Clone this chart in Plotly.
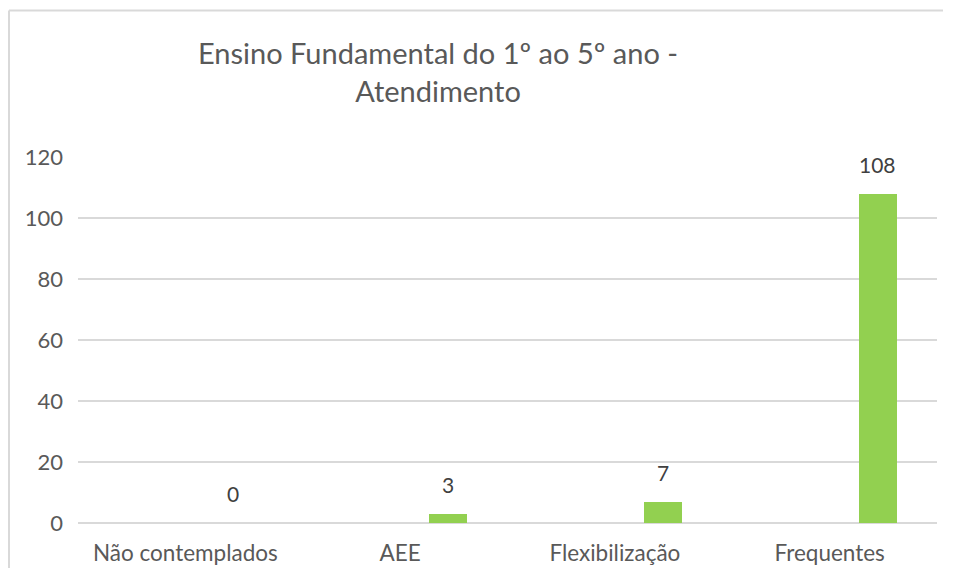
import plotly.graph_objects as go

categories = ["Não contemplados", "AEE", "Flexibilização", "Frequentes"]
values = [0, 3, 7, 108]
y_ticks = [0, 20, 40, 60, 80, 100, 120]
title_text = "Ensino Fundamental do 1º ao 5º ano -<br>Atendimento"

BAR_COLOR = "#92D050"
TEXT_GREY = "#595959"
LABEL_DARK = "#404040"
GRID = "#D9D9D9"
FONT = "Lato, 'Open Sans', sans-serif"

BAR_WIDTH = 0.177
BAR_OFFSET = 0.135

# page body has an 8px margin, so the figure is sized to fit inside the window
W, H = 936, 560
L, R, T, B = 70, 7, 149, 45
PW, PH = W - L - R, H - T - B

fig = go.Figure()
fig.add_trace(go.Bar(
    x=categories, y=values,
    width=BAR_WIDTH, offset=BAR_OFFSET,
    marker=dict(color=BAR_COLOR, line=dict(width=0)),
    hoverinfo="x+y",
))

annotations = []
for i, v in enumerate(values):
    annotations.append(dict(
        x=i + BAR_OFFSET + BAR_WIDTH / 2, y=v, xref="x", yref="y",
        text=str(v), showarrow=False, yanchor="bottom", yshift=15,
        font=dict(family=FONT, size=21, color=LABEL_DARK),
    ))

# chart-area border (Excel style): only top and left edges are visible in the crop
bx0 = (1 - L) / PW
bx1 = (W - 1 - L) / PW
by_top = (PH + T - 2.5) / PH
by_bot = (PH + T - H) / PH
shapes = [
    dict(type="line", xref="paper", yref="paper", x0=bx0, x1=bx1, y0=by_top, y1=by_top,
         line=dict(color="#D9D9D9", width=2), layer="below"),
    dict(type="line", xref="paper", yref="paper", x0=bx0, x1=bx0, y0=by_bot, y1=by_top,
         line=dict(color="#D9D9D9", width=2), layer="below"),
]

fig.update_layout(
    width=W, height=H,
    margin=dict(l=L, r=R, t=T, b=B, autoexpand=False),
    paper_bgcolor="white", plot_bgcolor="white",
    font=dict(family=FONT, color=TEXT_GREY),
    title=dict(text=title_text, x=430 / W, xanchor="center", xref="container",
               y=1 - 56 / H, yanchor="top", yref="container",
               font=dict(family=FONT, size=29, color=TEXT_GREY)),
    showlegend=False,
    bargap=0,
    annotations=annotations,
    shapes=shapes,
)
fig.update_xaxes(type="category", showgrid=False, showline=False, zeroline=False,
                 tickfont=dict(family=FONT, size=22.5, color=TEXT_GREY),
                 ticks="", ticklabelstandoff=14)
fig.update_yaxes(range=[0, 120], tickvals=y_ticks, showgrid=True, gridcolor=GRID, gridwidth=1.5,
                 zeroline=True, zerolinecolor=GRID, zerolinewidth=1.5, showline=False,
                 tickfont=dict(family=FONT, size=22, color=TEXT_GREY),
                 ticks="", ticklabelstandoff=14)

fig.write_html("out.html", config={"displayModeBar": False})
